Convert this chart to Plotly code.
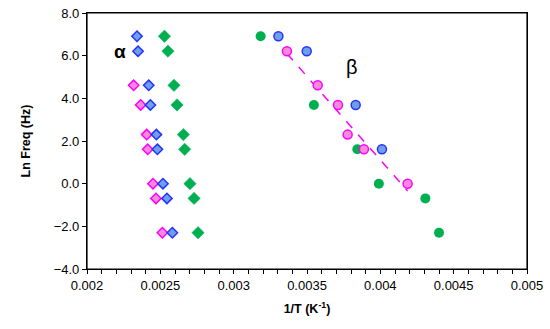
import numpy as np
import plotly.graph_objects as go

# ln of measurement frequencies
ln_f = [6.91, 6.21, 4.61, 3.69, 2.30, 1.61, 0.0, -0.69, -2.30]

# alpha relaxation (diamonds)
alpha_blue_x = [0.002341, 0.002348, 0.002421, 0.002432, 0.002473, 0.002480, 0.002518, 0.002545, 0.002582]
alpha_blue_y = ln_f
alpha_pink_x = [0.002318, 0.002366, 0.002407, 0.002414, 0.002450, 0.002470, 0.002514]
alpha_pink_y = [4.61, 3.69, 2.30, 1.61, 0.0, -0.69, -2.30]
alpha_green_x = [0.002528, 0.002552, 0.002593, 0.002614, 0.002657, 0.002666, 0.002702, 0.002730, 0.002757]
alpha_green_y = ln_f

# beta relaxation (circles)
beta_green_x = [0.003184, 0.003547, 0.003843, 0.003990, 0.004307, 0.004400]
beta_green_y = [6.91, 3.69, 1.61, 0.0, -0.69, -2.30]
beta_blue_x = [0.003305, 0.003498, 0.003832, 0.004011]
beta_blue_y = [6.91, 6.21, 3.69, 1.61]
beta_pink_x = [0.003363, 0.003573, 0.003711, 0.003777, 0.003888, 0.004186]
beta_pink_y = [6.21, 4.61, 3.69, 2.30, 1.61, 0.0]

x_tickvals = [0.002, 0.0025, 0.003, 0.0035, 0.004, 0.0045, 0.005]
x_ticktext = ["0.002", "0.0025", "0.003", "0.0035", "0.004", "0.0045", "0.005"]
y_tickvals = [-4, -2, 0, 2, 4, 6, 8]

BLUE_FILL, BLUE_LINE = "#6f9fe6", "#2233ff"
PINK_FILL, PINK_LINE = "#f58ad8", "#ff00ff"
GREEN = "#00b050"
FONT = "Liberation Sans, Arial, sans-serif"

fig = go.Figure()

# fitted dashed line through pink beta points
coef = np.polyfit(beta_pink_x, beta_pink_y, 1)
fx = np.array([min(beta_pink_x), max(beta_pink_x)])
fig.add_trace(go.Scatter(x=fx, y=np.polyval(coef, fx), mode="lines",
                         line=dict(color=PINK_LINE, width=1.5, dash="dash"),
                         hoverinfo="skip"))

def pts(x, y, symbol, fill, line, size, lw=1.5):
    fig.add_trace(go.Scatter(x=x, y=y, mode="markers",
                             marker=dict(symbol=symbol, size=size, color=fill,
                                         line=dict(color=line, width=lw))))

pts(alpha_pink_x, alpha_pink_y, "diamond", PINK_FILL, PINK_LINE, 8)
pts(alpha_blue_x, alpha_blue_y, "diamond", BLUE_FILL, BLUE_LINE, 8)
pts(alpha_green_x, alpha_green_y, "diamond", GREEN, GREEN, 9.5, 0.5)
pts(beta_green_x, beta_green_y, "circle", GREEN, GREEN, 10, 0)
pts(beta_blue_x, beta_blue_y, "circle", BLUE_FILL, BLUE_LINE, 9)
pts(beta_pink_x, beta_pink_y, "circle", PINK_FILL, PINK_LINE, 9)

fig.add_annotation(x=0.002225, y=6.2, text="<b>α</b>", showarrow=False,
                   font=dict(size=19, color="black", family=FONT))
fig.add_annotation(x=0.00381, y=5.45, text="β", showarrow=False,
                   font=dict(size=20, color="black", family=FONT))

# plot frame (top and right edges included)
fig.add_shape(type="rect", xref="paper", yref="paper", x0=0, x1=1, y0=0, y1=1,
              line=dict(color="black", width=1.2), layer="above")

fig.update_layout(
    width=550, height=329,
    margin=dict(l=87, r=23, t=13, b=60),
    paper_bgcolor="white", plot_bgcolor="white",
    showlegend=False,
    font=dict(family=FONT, size=13, color="black"),
)
fig.update_xaxes(range=[0.002, 0.005], tickvals=x_tickvals, ticktext=x_ticktext,
                 automargin=False,
                 showline=True, linecolor="black", linewidth=1.2, mirror=True,
                 ticks="outside", ticklen=4, tickcolor="black", showgrid=False,
                 zeroline=False, tickfont=dict(size=13),
                 minor=dict(dtick=0.0001, tick0=0.002, ticks="outside", ticklen=4,
                            tickcolor="black", showgrid=False),
                 title=dict(text="<b>1/T (K<sup>-1</sup>)</b>", font=dict(size=12.5), standoff=12))
fig.update_yaxes(range=[-4, 8], tickvals=y_tickvals, tickformat=".1f",
                 automargin=False,
                 showline=True, linecolor="black", linewidth=1.2, mirror=True,
                 ticks="outside", ticklen=4, tickcolor="black", showgrid=False,
                 zeroline=False, tickfont=dict(size=13),
                 title=dict(text="<b>Ln Freq (Hz)</b>", font=dict(size=12.5), standoff=20))

# remove the default 8px page margin so the figure sits at the window origin
fig.write_html("out.html", config={"displayModeBar": False},
               post_script="document.body.style.margin='0';document.body.style.overflow='hidden';")
